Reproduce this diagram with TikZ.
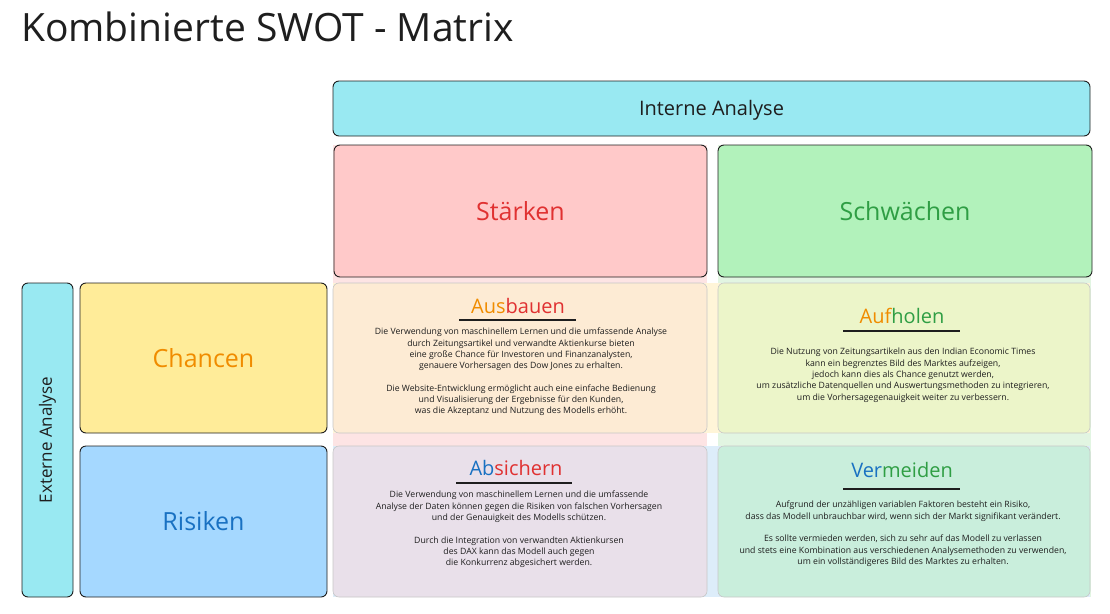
\documentclass[tikz,border=0pt]{standalone}
\usepackage{fontspec}
\setmainfont{Open Sans}
\definecolor{ink}{HTML}{1E1E1E}
\definecolor{cyanF}{HTML}{99E9F2}
\definecolor{pinkF}{HTML}{FFC9C9}
\definecolor{greenF}{HTML}{B2F2BB}
\definecolor{yellowF}{HTML}{FFEC99}
\definecolor{blueF}{HTML}{A5D8FF}
\definecolor{redT}{HTML}{E03131}
\definecolor{greenT}{HTML}{2F9E44}
\definecolor{orangeT}{HTML}{F08C00}
\definecolor{blueT}{HTML}{1971C2}
\definecolor{pinkL}{HTML}{FDE4E4}
\definecolor{greenL}{HTML}{E2F5E2}
\definecolor{yellowL}{HTML}{FFF5D8}
\definecolor{blueL}{HTML}{DDEDFA}
\definecolor{cellSO}{HTML}{FDEBD4}
\definecolor{cellWO}{HTML}{ECF5C9}
\definecolor{cellST}{HTML}{E9E0EA}
\definecolor{cellWT}{HTML}{C9EEDC}
\begin{document}
\begin{tikzpicture}[x=1pt,y=-1pt,
  box/.style={draw=ink, line width=0.9pt, rounded corners=6pt, inner sep=0pt, outer sep=0pt, anchor=north west},
  strip/.style={draw=none, inner sep=0pt, outer sep=0pt, anchor=north west},
  cell/.style={draw=black!22, line width=0.6pt, rounded corners=6pt, inner sep=0pt, outer sep=0pt, anchor=north west},
  label/.style={font=\fontsize{25}{28}\selectfont},
  head/.style={font=\fontsize{20}{23}\selectfont, inner sep=1pt},
  body/.style={font=\fontsize{8.7}{11.3}\selectfont, align=center, text=ink, inner sep=0pt},
  uline/.style={draw=ink, line width=1.4pt}]
\useasboundingbox (0,0) rectangle (1110,613);
% title
\node[anchor=west, font=\fontsize{39}{42}\selectfont, text=ink, inner sep=0pt] (title) at (21,27) {Kombinierte SWOT - Matrix};
% background strips
\node[strip, fill=pinkL, minimum width=374pt, minimum height=452pt] (colS) at (333,145) {};
\node[strip, fill=greenL, minimum width=373pt, minimum height=452pt] (colW) at (718,145) {};
\node[strip, fill=yellowL, minimum width=757pt, minimum height=150pt] (rowO) at (333,283) {};
\node[strip, fill=blueL, minimum width=757pt, minimum height=151pt] (rowT) at (333,446) {};
% header boxes
\node[box, fill=cyanF, minimum width=757pt, minimum height=55pt] (intern) at (333,81) {};
\node[text=ink, font=\fontsize{20}{23}\selectfont] (internT) at ([yshift=-2pt]intern.center) {Interne Analyse};
\node[box, fill=pinkF, minimum width=373pt, minimum height=132pt] (staerken) at (334,145) {};
\node[label, text=redT] (staerkenT) at (staerken.center) {Stärken};
\node[box, fill=greenF, minimum width=374pt, minimum height=132pt] (schwaechen) at (718,145) {};
\node[label, text=greenT] (schwaechenT) at (schwaechen.center) {Schwächen};
\node[box, fill=cyanF, minimum width=51pt, minimum height=314pt] (extern) at (22,283) {};
\node[text=ink, font=\fontsize{17}{20}\selectfont, rotate=90] (externT) at (extern.center) {Externe Analyse};
\node[box, fill=yellowF, minimum width=247pt, minimum height=150pt] (chancen) at (80,283) {};
\node[label, text=orangeT] (chancenT) at (chancen.center) {Chancen};
\node[box, fill=blueF, minimum width=247pt, minimum height=151pt] (risiken) at (80,446) {};
\node[label, text=blueT] (risikenT) at (risiken.center) {Risiken};
% combination cells
\node[cell, fill=cellSO, minimum width=374pt, minimum height=150pt] (so) at (333,283) {};
\node[cell, fill=cellWO, minimum width=372pt, minimum height=150pt] (wo) at (718,283) {};
\node[cell, fill=cellST, minimum width=374pt, minimum height=151pt] (st) at (333,446) {};
\node[cell, fill=cellWT, minimum width=372pt, minimum height=151pt] (wt) at (718,446) {};
% Ausbauen
\node[head] (soH) at (518,306) {\textcolor{orangeT}{Aus}\textcolor{redT}{bauen}};
\coordinate (soU1) at (459,320); \coordinate (soU2) at (576,320);
\draw[uline] (soU1) -- (soU2);
\node[body, anchor=north] (soB) at (521,328) {Die Verwendung von maschinellem Lernen und die umfassende Analyse\\
durch Zeitungsartikel und verwandte Aktienkurse bieten\\
eine große Chance für Investoren und Finanzanalysten,\\
genauere Vorhersagen des Dow Jones zu erhalten.\\[11.3pt]
Die Website-Entwicklung ermöglicht auch eine einfache Bedienung\\
und Visualisierung der Ergebnisse für den Kunden,\\
was die Akzeptanz und Nutzung des Modells erhöht.};
% Aufholen
\node[head] (woH) at (902,316) {\textcolor{orangeT}{Auf}\textcolor{greenT}{holen}};
\coordinate (woU1) at (843,331); \coordinate (woU2) at (960,331);
\draw[uline] (woU1) -- (woU2);
\node[body, anchor=north] (woB) at (903,348) {Die Nutzung von Zeitungsartikeln aus den Indian Economic Times\\
kann ein begrenztes Bild des Marktes aufzeigen,\\
jedoch kann dies als Chance genutzt werden,\\
um zusätzliche Datenquellen und Auswertungsmethoden zu integrieren,\\
um die Vorhersagegenauigkeit weiter zu verbessern.};
% Absichern
\node[head] (stH) at (516,468) {\textcolor{blueT}{Ab}\textcolor{redT}{sichern}};
\coordinate (stU1) at (456,483); \coordinate (stU2) at (572,483);
\draw[uline] (stU1) -- (stU2);
\node[body, anchor=north] (stB) at (519,491) {Die Verwendung von maschinellem Lernen und die umfassende\\
Analyse der Daten können gegen die Risiken von falschen Vorhersagen\\
und der Genauigkeit des Modells schützen.\\[11.3pt]
Durch die Integration von verwandten Aktienkursen\\
des DAX kann das Modell auch gegen\\
die Konkurrenz abgesichert werden.};
% Vermeiden
\node[head] (wtH) at (902,470) {\textcolor{blueT}{Ver}\textcolor{greenT}{meiden}};
\coordinate (wtU1) at (843,489); \coordinate (wtU2) at (960,489);
\draw[uline] (wtU1) -- (wtU2);
\node[body, anchor=north] (wtB) at (903,501) {Aufgrund der unzähligen variablen Faktoren besteht ein Risiko,\\
dass das Modell unbrauchbar wird, wenn sich der Markt signifikant verändert.\\[11.3pt]
Es sollte vermieden werden, sich zu sehr auf das Modell zu verlassen\\
und stets eine Kombination aus verschiedenen Analysemethoden zu verwenden,\\
um ein vollständigeres Bild des Marktes zu erhalten.};
\end{tikzpicture}
\end{document}
